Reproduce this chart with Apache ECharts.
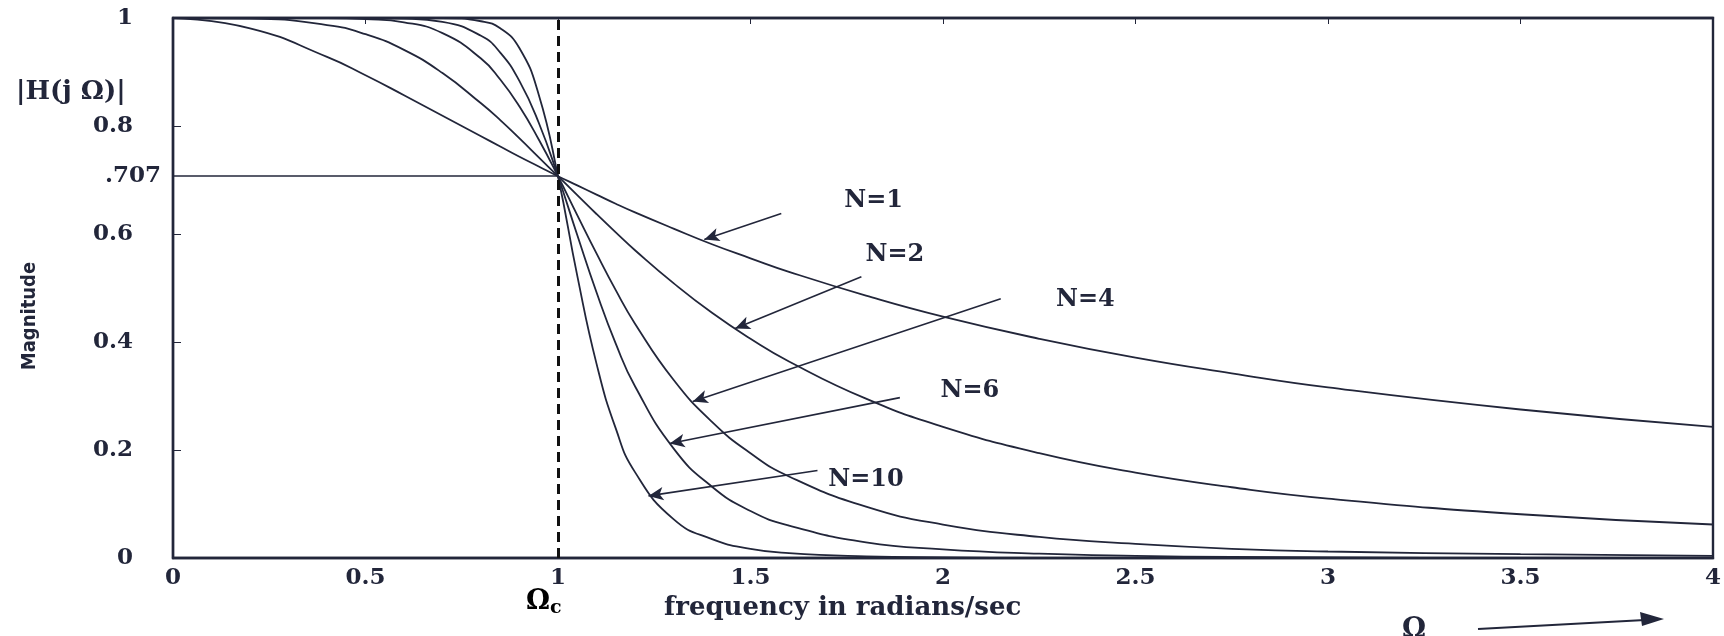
<!DOCTYPE html>
<html><head><meta charset="utf-8">
<script src="https://cdn.jsdelivr.net/npm/echarts@6/dist/echarts.min.js"></script>
<style>html,body{margin:0;padding:0;background:#fff}#c{width:1724px;height:636px}</style>
</head><body><div id="c"></div>
<script>
// frequency samples (rad/s)
const omega = [0, 0.2, 0.4, 0.5, 0.6, 0.7, 0.8, 0.85, 0.9, 0.95, 1.0, 1.05, 1.1, 1.15, 1.2, 1.3, 1.4, 1.5, 1.6, 1.8, 2.0, 2.25, 2.5, 2.75, 3.0, 3.5, 4.0];
// magnitude
const magN1  = [1, 0.981, 0.928, 0.894, 0.857, 0.819, 0.781, 0.762, 0.743, 0.725, 0.707, 0.690, 0.673, 0.656, 0.640, 0.610, 0.581, 0.555, 0.530, 0.486, 0.447, 0.406, 0.371, 0.342, 0.316, 0.275, 0.243];
const magN2  = [1, 0.999, 0.987, 0.970, 0.941, 0.898, 0.842, 0.811, 0.777, 0.742, 0.707, 0.672, 0.637, 0.603, 0.570, 0.509, 0.454, 0.406, 0.364, 0.295, 0.243, 0.194, 0.158, 0.131, 0.110, 0.081, 0.062];
const magN4  = [1, 1.000, 1.000, 0.998, 0.992, 0.972, 0.925, 0.886, 0.836, 0.775, 0.707, 0.635, 0.564, 0.496, 0.434, 0.330, 0.252, 0.194, 0.151, 0.095, 0.062, 0.039, 0.026, 0.017, 0.012, 0.007, 0.004];
const magN6  = [1, 1.000, 1.000, 1.000, 0.999, 0.993, 0.967, 0.936, 0.883, 0.806, 0.707, 0.598, 0.492, 0.397, 0.318, 0.203, 0.132, 0.087, 0.060, 0.029, 0.016, 0.008, 0.004, 0.002, 0.001, 0.000, 0.000];
const magN10 = [1, 1.000, 1.000, 1.000, 1.000, 1.000, 0.994, 0.981, 0.944, 0.858, 0.707, 0.523, 0.360, 0.240, 0.159, 0.072, 0.035, 0.017, 0.009, 0.003, 0.001, 0.000, 0.000, 0.000, 0.000, 0.000, 0.000];
const seriesNames = ['N=1', 'N=2', 'N=4', 'N=6', 'N=10'];
const seriesValues = [magN1, magN2, magN4, magN6, magN10];
// annotation labels and arrows (data coordinates)
const labelX = [1.82, 1.875, 2.37, 2.07, 1.80];
const labelY = [0.662, 0.562, 0.478, 0.309, 0.144];
const arrowFrom = [[1.58, 0.638], [1.788, 0.521], [2.15, 0.480], [1.888, 0.297], [1.674, 0.162]];
const arrowTo   = [[1.38, 0.590], [1.46, 0.425], [1.35, 0.290], [1.29, 0.212], [1.235, 0.115]];
const cutoffFreq = 1;
const cutoffMag = 0.707;

const ink = '#22263a';
const serif = "'DejaVu Serif', 'Liberation Serif', serif";

const chart = echarts.init(document.getElementById('c'));
const series = seriesNames.map((name, i) => ({
  name, type: 'line', symbol: 'none', smooth: 0.5,
  lineStyle: { color: ink, width: 1.8 },
  data: omega.map((w, k) => [w, seriesValues[i][k]]),
  markLine: {
    silent: true, symbol: ['none', 'arrow'], symbolSize: [10, 15], animation: false,
    lineStyle: { color: ink, width: 1.6, type: 'solid' }, label: { show: false },
    data: [[{ coord: arrowFrom[i] }, { coord: arrowTo[i] }]]
  }
}));
series.push({
  name: 'ref', type: 'line', symbol: 'none', data: [],
  markLine: {
    silent: true, symbol: ['none', 'none'], animation: false,
    data: [
      [{ coord: [0, cutoffMag], lineStyle: { color: ink, width: 1.6, type: 'solid' },
         label: { show: true, position: 'start', formatter: '.707', color: ink, fontFamily: serif, fontWeight: 'bold', fontSize: 23, distance: 12 } },
       { coord: [cutoffFreq, cutoffMag] }],
      [{ coord: [cutoffFreq, 0], lineStyle: { color: '#111', width: 3, type: [10, 6] }, label: { show: false } },
       { coord: [cutoffFreq, 1] }]
    ]
  }
});
series.push({
  name: 'labels', type: 'scatter', symbolSize: 0, silent: true,
  itemStyle: { opacity: 1, color: ink },
  data: seriesNames.map((n, i) => ({ name: n, value: [labelX[i], labelY[i]] })),
  label: { show: true, position: 'inside', formatter: p => p.name, color: ink, opacity: 1, textBorderWidth: 0,
    fontFamily: serif, fontWeight: 'bold', fontSize: 24 }
});

chart.setOption({
  animation: false,
  backgroundColor: '#fff',
  grid: { left: 173, right: 8, top: 18, bottom: 78, show: true, borderColor: ink, borderWidth: 2.4 },
  xAxis: [{
    type: 'value', min: 0, max: 4, interval: 0.5,
    axisLine: { show: true, lineStyle: { color: ink, width: 2.4 } },
    axisTick: { show: false },
    splitLine: { show: false },
    axisLabel: { color: ink, fontFamily: serif, fontWeight: 'bold', fontSize: 23, margin: 9, formatter: v => String(v) }
  }, {
    type: 'value', min: 0, max: 4, interval: 0.5, position: 'top',
    axisLine: { show: true, lineStyle: { color: ink, width: 2.4 } },
    axisTick: { show: true, inside: true, length: 6, lineStyle: { color: ink } },
    axisLabel: { show: false }, splitLine: { show: false }
  }],
  yAxis: [{
    type: 'value', min: 0, max: 1, interval: 0.2,
    axisLine: { show: true, lineStyle: { color: ink, width: 2.4 } },
    axisTick: { show: true, inside: true, length: 8, lineStyle: { color: ink } },
    splitLine: { show: false },
    axisLabel: { color: ink, fontFamily: serif, fontWeight: 'bold', fontSize: 23, margin: 40,
      formatter: v => (v === 0 || v === 1) ? String(v) : v.toFixed(1) }
  }],
  series,
  graphic: [
    { type: 'text', left: 16, top: 79, style: { text: '|H(j Ω)|', fill: ink, font: "bold 26px 'DejaVu Serif', serif" } },
    { type: 'text', x: 30, y: 316, rotation: Math.PI / 2, style: { text: 'Magnitude', fill: ink, font: "bold 20px 'DejaVu Sans Condensed', 'Liberation Sans Narrow', sans-serif", align: 'center', verticalAlign: 'middle' } },
    { type: 'text', left: 526, top: 588, style: { rich: { a: { fontFamily: serif, fontWeight: 'bold', fontSize: 27, color: ink }, b: { fontFamily: serif, fontWeight: 'bold', fontSize: 19, color: ink, padding: [14, 0, 0, 0] } }, text: '{a|Ω}{b|c}' } },
    { type: 'text', left: 664, top: 595, style: { text: 'frequency in radians/sec', fill: ink, font: "bold 26px 'DejaVu Serif', serif" } },
    { type: 'text', left: 1402, top: 616, style: { text: 'Ω', fill: ink, font: "bold 27px 'DejaVu Serif', serif" } },
    { type: 'line', shape: { x1: 1478, y1: 629, x2: 1645, y2: 620 }, style: { stroke: ink, lineWidth: 2.2 } },
    { type: 'polygon', shape: { points: [[1664, 619], [1640, 612], [1642, 626]] }, style: { fill: ink } }
  ]
});
</script></body></html>
